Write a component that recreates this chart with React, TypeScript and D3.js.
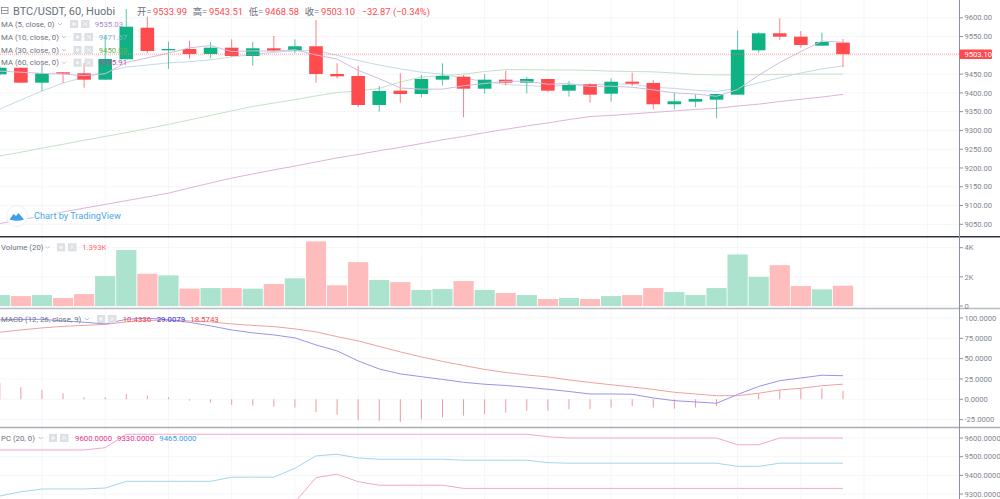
import * as d3 from 'd3';
import React from 'react';

// ohlc (index 40 is the header values)
const opens = [9449.5, 9467, 9427.2, 9454.9, 9452.2, 9435.2, 9489.5, 9573.6, 9513.4, 9516.9, 9503.6, 9520.4, 9498.3, 9518.8, 9513.4, 9524.1, 9450.3, 9445, 9367.8, 9405.9, 9397.1, 9435.2, 9443.1, 9411.2, 9435.2, 9427.2, 9437, 9405.9, 9422.9, 9397.9, 9429.8, 9426.4, 9369.7, 9376.6, 9381.9, 9395.2, 9513.4, 9558.7, 9549.7, 9525.7, 9533.99];
const closes = [9467, 9427.2, 9452.2, 9451.1, 9435.2, 9490.3, 9576.3, 9511.6, 9516.9, 9503.6, 9520.4, 9498.3, 9518.8, 9512.4, 9524.1, 9450.3, 9444.2, 9367.8, 9405, 9397.1, 9437, 9445, 9411.2, 9435.2, 9427.2, 9437, 9405.9, 9421, 9395.2, 9429.8, 9424.5, 9369.7, 9377.6, 9383.8, 9397.1, 9515, 9558.7, 9549.7, 9527.6, 9535.6, 9503.1];
const highs = [9471.6, 9468, 9474.3, 9455.7, 9479.6, 9554.2, 9623.4, 9602.9, 9536.4, 9539, 9535.6, 9542.7, 9535.6, 9551.5, 9542.7, 9594.1, 9478.8, 9471.6, 9418.4, 9452.2, 9447.7, 9478.8, 9447.7, 9450.3, 9459.1, 9443.1, 9437.5, 9431.7, 9425.6, 9438.9, 9453.8, 9434.4, 9400.5, 9396.3, 9397.4, 9565.6, 9561.4, 9598.7, 9564.8, 9560.3, 9543.51];
const lows = [9445, 9427, 9405, 9426.4, 9413.9, 9434.4, 9489.5, 9506.3, 9463.6, 9491.1, 9492.2, 9496.4, 9472.4, 9509.7, 9505.5, 9427.2, 9438.9, 9361.7, 9350, 9373.9, 9388.3, 9419.2, 9335, 9397.9, 9420.2, 9399, 9401.6, 9389.9, 9373.9, 9376.6, 9418.4, 9356.3, 9356.3, 9361.7, 9332.4, 9395.2, 9507, 9540.9, 9520.4, 9525.7, 9468.58];

const ma5 = [9458, 9455, 9452, 9450, 9446, 9451, 9481, 9493, 9506, 9520, 9526, 9510, 9512, 9511, 9515, 9501, 9490, 9460, 9438, 9413, 9410, 9410, 9419, 9425, 9431, 9431, 9423, 9425, 9417, 9418, 9415, 9408, 9400, 9397, 9391, 9409, 9447, 9481, 9510, 9538, 9535];
const ma10 = [9357, 9381, 9405, 9426, 9442, 9456, 9469, 9474, 9480, 9483, 9488, 9496, 9502, 9508, 9512, 9513, 9500, 9486, 9474, 9464, 9455, 9450, 9439, 9431, 9422, 9420, 9416, 9422, 9421, 9424, 9423, 9415, 9412, 9407, 9404, 9412, 9427, 9440, 9453, 9464, 9472];
const ma30 = [9232, 9242, 9253, 9263, 9274, 9284, 9294, 9305, 9316, 9328, 9340, 9352, 9364, 9373, 9382, 9392, 9401, 9405, 9412, 9429, 9442, 9446, 9450, 9457, 9462, 9462, 9461, 9461, 9460, 9458, 9457, 9456, 9453, 9449, 9448, 9448, 9448.5, 9449, 9450, 9450, 9450];
const ma60 = [9052, 9062, 9072, 9083, 9093, 9103, 9113, 9123, 9133, 9147, 9160, 9173, 9184, 9195, 9205, 9216, 9227, 9236, 9246, 9255, 9265, 9275, 9284, 9294, 9303, 9312, 9320, 9329, 9337, 9340, 9344, 9348, 9352, 9356, 9359, 9365, 9370, 9377, 9383, 9389, 9396];

// volume in K
const volumes = [0.75, 0.68, 0.75, 0.55, 0.82, 2.05, 3.84, 2.21, 2.1, 1.19, 1.23, 1.23, 1.19, 1.51, 1.9, 4.43, 1.42, 3.01, 1.78, 1.64, 1.1, 1.16, 1.71, 1.1, 0.89, 0.75, 0.48, 0.55, 0.48, 0.68, 0.75, 1.23, 0.96, 0.75, 1.23, 3.54, 2.0, 2.8, 1.37, 1.14, 1.393];

const macdLine = [97.7, 98.3, 98.3, 96.4, 94.8, 92.7, 98.4, 99.8, 97.7, 94.6, 90.3, 85.3, 81.7, 79.2, 75.5, 66.9, 59.5, 47.2, 37.3, 31.2, 27.8, 24.4, 20.9, 18.5, 17, 14.8, 12.3, 9.6, 6.5, 6.5, 6.2, 1.6, -1.7, -3.3, -4.9, 5.9, 15.8, 22.9, 26.2, 29.6, 29.0];
const signalLine = [82.5, 85.3, 87.8, 89.7, 90.9, 92.1, 95.2, 97, 97.3, 96.4, 95.2, 92.7, 90.9, 89.4, 86.6, 82.9, 77.1, 71.8, 65, 58.3, 52.1, 46.6, 41.6, 36.7, 33, 29.9, 27.5, 23.8, 20.7, 17.9, 15.1, 12.1, 8.6, 6.5, 4.4, 4.4, 7.4, 11.5, 13.5, 16.7, 18.6];
const macdHist = [20.6, 14.8, 11.5, 7.4, 2.5, 2.5, 6.5, 4.6, 2.5, -1.6, -4.1, -7, -7.8, -9, -10.2, -15.6, -18.8, -25.5, -26.7, -28, -24.6, -22.2, -20.1, -18.1, -16.4, -13.9, -13.9, -12.3, -12.3, -10.2, -8.3, -10.2, -11.5, -10.2, -8.3, 0.9, 7.4, 11.5, 13.5, 13.5, 10.43];

const pcUpper = [9536, 9536, 9536, 9536, 9536, 9548, 9620, 9620, 9620, 9620, 9620, 9620, 9620, 9620, 9620, 9620, 9620, 9620, 9620, 9620, 9620, 9620, 9620, 9620, 9620, 9620, 9607, 9600, 9600, 9600, 9600, 9600, 9600, 9600, 9600, 9564, 9564, 9600, 9600, 9600, 9600];
const pcLower = [9042, 9088, 9118, 9118, 9118, 9116, 9116, 9116, 9116, 9116, 9116, 9160, 9160, 9160, 9256, 9388, 9406, 9366, 9347, 9347, 9347, 9347, 9330, 9330, 9330, 9330, 9330, 9330, 9330, 9330, 9330, 9330, 9330, 9330, 9330, 9330, 9330, 9330, 9330, 9330, 9330];
const pcMiddle = [9289, 9312, 9327, 9327, 9327, 9332, 9368, 9368, 9368, 9368, 9368, 9390, 9390, 9390, 9438, 9504, 9513, 9493, 9486, 9486, 9486, 9486, 9481, 9481, 9481, 9481, 9468, 9465, 9465, 9465, 9465, 9465, 9465, 9465, 9465, 9448, 9448, 9465, 9465, 9465, 9465];

const priceTicks = [9600, 9550, 9450, 9400, 9350, 9300, 9250, 9200, 9150, 9100, 9050];
const priceGrid = [9600, 9550, 9500, 9450, 9400, 9350, 9300, 9250, 9200, 9150, 9100, 9050];
const volumeTicks = [4, 2, 0];
const macdTicks = [100, 75, 50, 25, 0, -25];
const pcTicks = [9600, 9500, 9400, 9300];
const lastPrice = 9503.1;

const UP = '#0fb383';
const DOWN = '#ff4a4e';
const FONT = 'Roboto, sans-serif';
const AXIS_X = 959.5;

const x = d3.scaleLinear().domain([0, 40]).range([-0.2, 843]);
const yPrice = d3.scaleLinear().domain([9050, 9600]).range([224.3, 17.8]);
const yVolume = d3.scaleLinear().domain([0, 4]).range([306, 247.7]);
const yMacd = d3.scaleLinear().domain([-25, 100]).range([419.6, 318]);
const yPc = d3.scaleLinear().domain([9300, 9600]).range([494, 438]);

const linePath = (values: number[], y: d3.ScaleLinear<number, number>) =>
	d3
		.line<number>()
		.x((_, i) => x(i))
		.y((d) => y(d))(values) as string;

const gridXs = d3.range(2, 46, 3).map((i) => x(i));

const Legend = (props: { y: number; label: string; arrow: number; box: number; values: { text: string; x: number; color: string }[] }) => {
	const { y, label, arrow, box, values } = props;
	return (
		<g fontFamily={FONT} fontSize={7.8}>
			<text x={1} y={y} dy="0.35em" fill="#6f7480">
				{label}
			</text>
			<path d={`M${arrow - 2},${y - 1} L${arrow},${y + 1} L${arrow + 2},${y - 1}`} fill="none" stroke="#c3c6cc" />
			<rect x={box} y={y - 4} width={8} height={8} fill="#dcdfe3" />
			<rect x={box + 2.5} y={y - 1.5} width={3} height={3} fill="#f6f7f8" />
			<rect x={box + 11} y={y - 4} width={8.5} height={8} fill="#dcdfe3" />
			<path d={`M${box + 13},${y - 2} L${box + 17.5},${y + 2} M${box + 17.5},${y - 2} L${box + 13},${y + 2}`} stroke="#f6f7f8" />
			{values.map((v) => (
				<text key={v.text} x={v.x} y={y} dy="0.35em" fill={v.color}>
					{v.text}
				</text>
			))}
		</g>
	);
};

const AxisLabels = (props: { ticks: number[]; y: d3.ScaleLinear<number, number>; format: (d: number) => string }) => (
	<g fontFamily={FONT} fontSize={7.6} fill="#7f8592">
		{props.ticks.map((t) => (
			<g key={t}>
				<line x1={AXIS_X} x2={AXIS_X + 3.5} y1={props.y(t)} y2={props.y(t)} stroke="#8b91a0" />
				<text x={964.5} y={props.y(t)} dy="0.35em">
					{props.format(t)}
				</text>
			</g>
		))}
	</g>
);

const HGrid = (props: { ticks: number[]; y: d3.ScaleLinear<number, number> }) => (
	<g stroke="#f5f6f8">
		{props.ticks.map((t) => (
			<line key={t} x1={0} x2={AXIS_X} y1={props.y(t)} y2={props.y(t)} />
		))}
	</g>
);

export default function App() {
	const bodyW = 13.6;
	const barW = 20.2;
	const isUp = (i: number) => closes[i] >= opens[i];
	return (
		<svg width={1000} height={499} style={{ position: 'absolute', left: 0, top: 0, background: '#fff' }}>
			<defs>
				<clipPath id="main">
					<rect x={0} y={0} width={AXIS_X} height={236} />
				</clipPath>
				<clipPath id="vol">
					<rect x={0} y={238} width={AXIS_X} height={70} />
				</clipPath>
				<clipPath id="macd">
					<rect x={0} y={309} width={AXIS_X} height={118} />
				</clipPath>
				<clipPath id="pc">
					<rect x={0} y={428} width={AXIS_X} height={71} />
				</clipPath>
			</defs>

			<g stroke="#f5f6f8">
				{gridXs.map((gx) => (
					<line key={gx} x1={gx} x2={gx} y1={0} y2={499} />
				))}
			</g>
			<HGrid ticks={priceGrid} y={yPrice} />
			<HGrid ticks={volumeTicks} y={yVolume} />
			<HGrid ticks={macdTicks} y={yMacd} />
			<HGrid ticks={pcTicks} y={yPc} />

			<g clipPath="url(#main)">
				<path d={linePath(ma60, yPrice)} fill="none" stroke="#dfb3d6" />
				<path d={linePath(ma30, yPrice)} fill="none" stroke="#c6e0c6" />
				<path d={linePath(ma10, yPrice)} fill="none" stroke="#c4dae4" />
				{opens.map((o, i) => {
					const color = isUp(i) ? UP : DOWN;
					const top = yPrice(Math.max(o, closes[i]));
					const bottom = yPrice(Math.min(o, closes[i]));
					return (
						<g key={i}>
							<line x1={x(i)} x2={x(i)} y1={yPrice(highs[i])} y2={yPrice(lows[i])} stroke={color} strokeOpacity={0.7} />
							<rect x={x(i) - bodyW / 2} y={top} width={bodyW} height={Math.max(bottom - top, 1)} fill={color} />
						</g>
					);
				})}
				<path d={linePath(ma5, yPrice)} fill="none" stroke="#cfbde0" />
				<line x1={0} x2={AXIS_X} y1={yPrice(lastPrice)} y2={yPrice(lastPrice)} stroke="#ff7a7a" strokeOpacity={0.7} strokeDasharray="1 1" />
			</g>

			<g clipPath="url(#vol)">
				{volumes.map((v, i) => (
					<rect key={i} x={x(i) - barW / 2} y={yVolume(v)} width={barW} height={yVolume(0) - yVolume(v)} fill={isUp(i) ? '#abe3cf' : '#ffbcbc'} />
				))}
			</g>

			<g clipPath="url(#macd)">
				{macdHist.map((v, i) => (
					<line key={i} x1={x(i)} x2={x(i)} y1={yMacd(0)} y2={yMacd(v)} stroke="#ee9aa0" />
				))}
				<path d={linePath(signalLine, yMacd)} fill="none" stroke="#f0a0a0" />
				<path d={linePath(macdLine, yMacd)} fill="none" stroke="#9a93e6" />
			</g>

			<g clipPath="url(#pc)">
				<path d={linePath(pcUpper, yPc)} fill="none" stroke="#f4a6cf" />
				<path d={linePath(pcLower, yPc)} fill="none" stroke="#f4a6cf" />
				<path d={linePath(pcMiddle, yPc)} fill="none" stroke="#a5d5ec" />
			</g>

			{/* pane separators and price axis */}
			<line x1={0} x2={1000} y1={236.7} y2={236.7} stroke="#2f3347" strokeWidth={1.4} />
			<line x1={0} x2={1000} y1={308.5} y2={308.5} stroke="#b9bcc4" strokeWidth={1.6} />
			<line x1={0} x2={1000} y1={427.5} y2={427.5} stroke="#aaadb3" strokeWidth={1.4} />
			<line x1={AXIS_X} x2={AXIS_X} y1={0} y2={499} stroke="#8b91a0" />

			<AxisLabels ticks={priceTicks} y={yPrice} format={(d) => d.toFixed(2)} />
			<AxisLabels ticks={volumeTicks} y={yVolume} format={(d) => (d === 0 ? '0' : `${d}K`)} />
			<AxisLabels ticks={macdTicks} y={yMacd} format={(d) => d.toFixed(4)} />
			<AxisLabels ticks={pcTicks} y={yPc} format={(d) => d.toFixed(4)} />

			<rect x={AXIS_X} y={yPrice(lastPrice) - 4.8} width={32.5} height={9.6} rx={1} fill="#ff4a4e" />
			<text x={964.5} y={yPrice(lastPrice)} dy="0.35em" fontFamily={FONT} fontSize={7.6} fill="#fff">
				{lastPrice.toFixed(2)}
			</text>

			{/* header */}
			<rect x={1.5} y={7.5} width={6.5} height={6} fill="none" stroke="#7f8592" strokeWidth={0.8} />
			<line x1={1.5} x2={8} y1={10.5} y2={10.5} stroke="#7f8592" strokeWidth={0.8} />
			<text x={13} y={15} fontFamily={FONT} fontSize={11} fill="#6a6f7b">
				BTC/USDT, 60, Huobi
			</text>
			<g fontFamily={`${FONT}, "Noto Sans CJK SC"`} fontSize={9.4}>
				<text x={137} y={14.5} fill="#6a6f7b">开=</text>
				<text x={153} y={14.5} fill={DOWN}>9533.99</text>
				<text x={192.7} y={14.5} fill="#6a6f7b">高=</text>
				<text x={209} y={14.5} fill={DOWN}>9543.51</text>
				<text x={248.7} y={14.5} fill="#6a6f7b">低=</text>
				<text x={265} y={14.5} fill={DOWN}>9468.58</text>
				<text x={304.7} y={14.5} fill="#6a6f7b">收=</text>
				<text x={321} y={14.5} fill={DOWN}>9503.10</text>
				<text x={361.7} y={14.5} fill={DOWN}>−32.87 (−0.34%)</text>
			</g>

			<Legend y={24} label="MA (5, close, 0)" arrow={60} box={70} values={[{ text: '9535.03', x: 94.7, color: '#a78bcf' }]} />
			<Legend y={37} label="MA (10, close, 0)" arrow={64} box={73.5} values={[{ text: '9471.67', x: 98.7, color: '#7fb2d6' }]} />
			<Legend y={50} label="MA (30, close, 0)" arrow={64} box={73.5} values={[{ text: '9450.00', x: 98.7, color: '#6fae4f' }]} />
			<Legend y={62.7} label="MA (60, close, 0)" arrow={64} box={73.5} values={[{ text: '9395.91', x: 98.7, color: '#b14aa3' }]} />
			<Legend y={247.3} label="Volume (20)" arrow={47.7} box={57} values={[{ text: '1.393K', x: 82, color: '#ff6b70' }]} />
			<Legend
				y={319}
				label="MACD (12, 26, close, 9)"
				arrow={87}
				box={97}
				values={[
					{ text: '10.4336', x: 122.7, color: '#f0484e' },
					{ text: '29.0079', x: 156.7, color: '#3a32d8' },
					{ text: '18.5743', x: 190.3, color: '#f0484e' },
				]}
			/>
			<Legend
				y={438}
				label="PC (20, 0)"
				arrow={40.7}
				box={49}
				values={[
					{ text: '9600.0000', x: 75, color: '#e6348f' },
					{ text: '9330.0000', x: 117, color: '#e6348f' },
					{ text: '9465.0000', x: 159.3, color: '#3d9be8' },
				]}
			/>

			{/* watermark */}
			<circle cx={17} cy={216} r={10.5} fill="#fff" stroke="#eef0f3" />
			<path d="M9.5,219.5 L13.5,214 L16,216 L18.5,213 L24,219.5 Q17,222 9.5,219.5 Z" fill="#3f9fe6" />
			<text x={34} y={219} fontFamily={FONT} fontSize={9.2} fill="#4aa6ea" stroke="#fff" strokeWidth={2} paintOrder="stroke">
				Chart by TradingView
			</text>
		</svg>
	);
}
